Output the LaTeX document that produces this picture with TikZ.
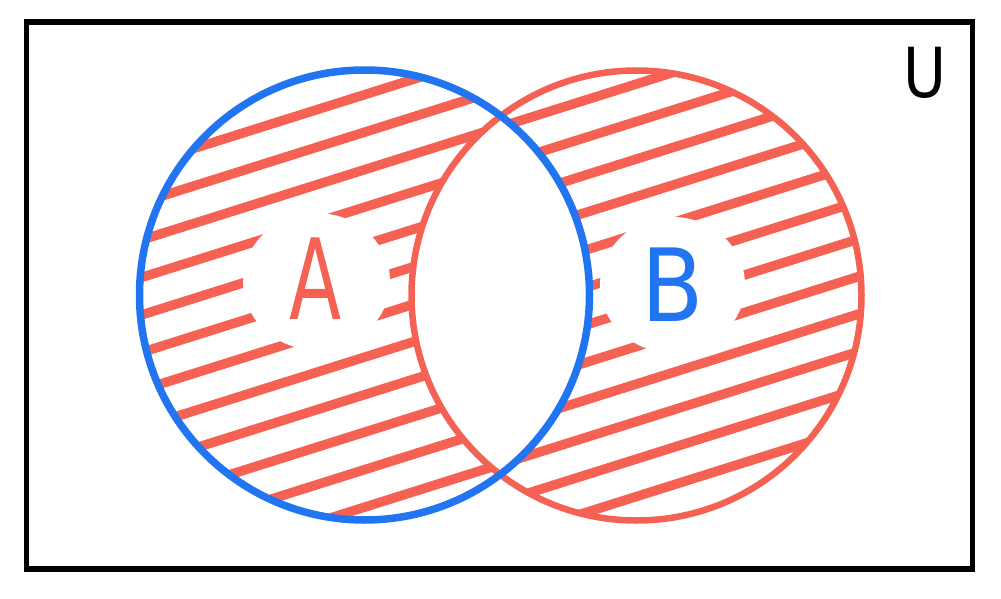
\documentclass[tikz,border=0pt]{standalone}
\usepackage{fontspec}
\setmainfont{DejaVu Sans}
\usepackage{graphicx}
\definecolor{vred}{RGB}{245,98,84}
\definecolor{vblue}{RGB}{33,117,240}
\tikzset{
  hatchline/.style={draw=vred, line width=9.5pt},
  setring/.style={line width=#1},
  lbl/.style={inner sep=0pt, outer sep=0pt}
}
\begin{document}
\begin{tikzpicture}[x=1pt,y=-1pt]
\useasboundingbox (0,0) rectangle (1001,599);
% universe
\draw[line width=5.5pt] (26.5,22) rectangle (972.5,569);
\coordinate (cA) at (364.5,295);
\coordinate (cB) at (636.5,295.5);
% hatching of the symmetric difference
\begin{scope}
  \clip (cA) circle[radius=225pt] (cB) circle[radius=225pt];
  \foreach \k in {-16,...,16}{
    \pgfmathsetmacro{\c}{284.5+37.5*\k}
    \draw[hatchline] (100,\c-31.5) -- (900,\c-283.5);
  }
\end{scope}
\begin{scope}
  \clip (cA) circle[radius=225pt];
  \fill[white] (cB) circle[radius=225pt];
\end{scope}
% label patches
\fill[white] (316.5,281.5) ellipse[x radius=73.5pt, y radius=68.5pt];
\fill[white] (672.5,285) ellipse[x radius=72.5pt, y radius=68pt];
% rings
\draw[vred, setring=6.5pt] (cB) circle[radius=225pt];
\draw[vblue, setring=7.5pt] (cA) circle[radius=225pt];
% labels
\node[lbl, text=vred, font=\fontsize{112}{112}\selectfont] (la) at (316,279) {\scalebox{0.68}[1]{A}};
\node[lbl, text=vblue, font=\fontsize{101}{101}\selectfont] (lb) at (673,285) {\scalebox{0.9}[1]{B}};
\node[lbl, text=black, font=\fontsize{69}{69}\selectfont] (lu) at (924.5,73) {\scalebox{0.85}[1]{U}};
\end{tikzpicture}
\end{document}
